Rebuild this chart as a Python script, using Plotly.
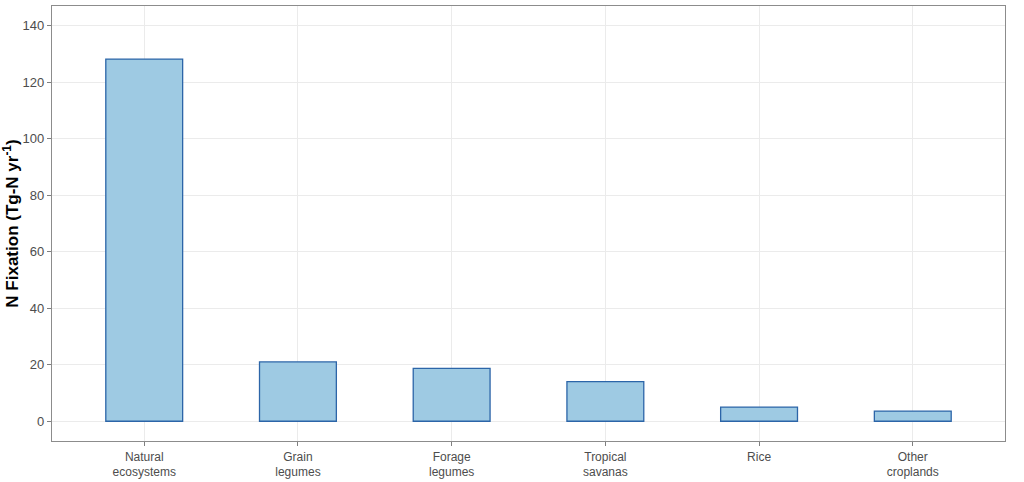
import plotly.graph_objects as go

categories = ["Natural<br>ecosystems", "Grain<br>legumes", "Forage<br>legumes",
              "Tropical<br>savanas", "Rice", "Other<br>croplands"]
values = [128.2, 21.0, 18.7, 14.0, 5.0, 3.6]
y_ticks = [0, 20, 40, 60, 80, 100, 120, 140]

fig = go.Figure()
fig.add_trace(go.Bar(
    x=categories, y=values, width=0.5,
    marker=dict(color="#9ecae3", line=dict(color="#2c65a8", width=1.3)),
))

fig.update_layout(
    width=1024, height=482,
    margin=dict(l=52, r=19, t=6, b=41, autoexpand=False),
    paper_bgcolor="white", plot_bgcolor="white",
    font=dict(family="Liberation Sans, Arial, sans-serif", color="#4d4d4d", size=12),
    showlegend=False,
    bargap=0.5,
)
fig.update_xaxes(
    range=[-0.6, 5.6], showgrid=True, gridcolor="#ebebeb", gridwidth=1,
    ticks="outside", ticklen=4, tickcolor="#7f7f7f", automargin=False,
    showline=True, linecolor="#8c8c8c", linewidth=1.2, mirror=True,
    tickfont=dict(size=12, color="#4d4d4d"),
)
fig.update_yaxes(
    range=[-7, 147], tickvals=y_ticks, showgrid=True, gridcolor="#ebebeb", gridwidth=1,
    zeroline=False, automargin=False,
    ticks="outside", ticklen=4, tickcolor="#7f7f7f",
    showline=True, linecolor="#8c8c8c", linewidth=1.2, mirror=True,
    tickfont=dict(size=13, color="#4d4d4d"),
    title=dict(text="<b>N Fixation (Tg-N yr<sup>-1</sup>)</b>",
               font=dict(size=17, color="black"), standoff=6),
)

fig.write_html("out.html")
